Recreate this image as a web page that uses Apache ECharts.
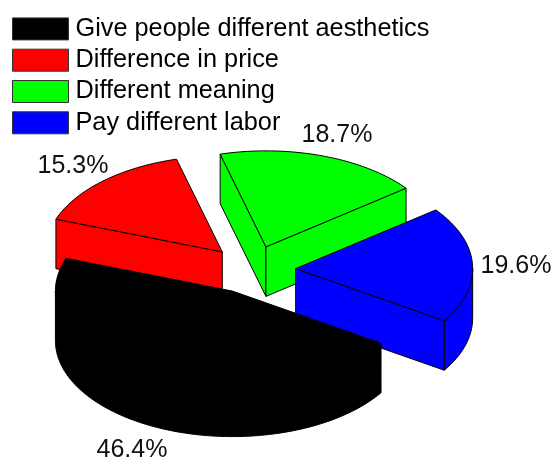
<!DOCTYPE html>
<html>
<head>
<meta charset="utf-8">
<style>html,body{margin:0;padding:0;background:#fff}#c{width:553px;height:458px}</style>
<script src="https://cdn.jsdelivr.net/npm/echarts@6/dist/echarts.min.js"></script>
</head>
<body>
<div id="c"></div>
<script>
var categories = ['Give people different aesthetics', 'Difference in price', 'Different meaning', 'Pay different labor'];
var values = [46.4, 15.3, 18.7, 19.6];
var percentLabels = ['46.4%', '15.3%', '18.7%', '19.6%'];

var colors = ['#000000', '#ff0000', '#00ff00', '#0000ff'];
var drawOrder = [4, 1, 2, 3];
var labelPositions = [[132, 450], [73, 166], [337, 135], [516, 266]];
var firstSliceStart = 32.9;
var pie = { cx: 251.9, cy: 269.6, rx: 177, ry: 96, depth: 49.5, explodeX: 43.8, explodeY: 24 };
var FONT = '"Liberation Sans", Arial, sans-serif';

var total = values.reduce(function (a, b) { return a + b; }, 0);
var sliceStarts = [];
values.reduce(function (acc, v, i) { sliceStarts[i] = acc; return acc + v / total * 360; }, firstSliceStart);

function rad(d) { return d * Math.PI / 180; }

function sliceShapes(i) {
  var a0 = sliceStarts[i];
  var a1 = a0 + values[i] / total * 360;
  var mid = rad((a0 + a1) / 2);
  var ax = pie.cx + pie.explodeX * Math.cos(mid);
  var ay = pie.cy + pie.explodeY * Math.sin(mid);
  function rim(a, dz) {
    return [ax + pie.rx * Math.cos(rad(a)), ay + pie.ry * Math.sin(rad(a)) + (dz || 0)];
  }
  function arc(from, to, dz) {
    var pts = [], n = Math.max(2, Math.ceil(Math.abs(to - from)));
    for (var k = 0; k <= n; k++) pts.push(rim(from + (to - from) * k / n, dz));
    return pts;
  }
  var polys = [];
  function cutFace(a) {
    polys.push([[ax, ay], rim(a), rim(a, pie.depth), [ax, ay + pie.depth]]);
  }
  // outer wall: the part of the rim that faces the viewer
  [0, 360].forEach(function (shift) {
    var lo = Math.max(a0, shift), hi = Math.min(a1, shift + 180);
    if (hi > lo) polys.push(arc(lo, hi).concat(arc(hi, lo, pie.depth)));
  });
  if (Math.cos(rad(a0)) < 0) cutFace(a0);
  if (Math.cos(rad(a1)) > 0) cutFace(a1);
  polys.push([[ax, ay]].concat(arc(a0, a1)));
  return polys;
}

function makeSeries(name, i) {
  return {
    type: 'custom',
    name: name,
    coordinateSystem: 'none',
    z: drawOrder[i],
    silent: true,
    animation: false,
    itemStyle: { color: colors[i] },
    data: [values[i]],
    renderItem: function () {
      var children = sliceShapes(i).map(function (points) {
        return {
          type: 'polygon',
          shape: { points: points },
          style: { fill: colors[i], stroke: '#000', lineWidth: 1, lineJoin: 'round' }
        };
      });
      children.push({
        type: 'text',
        style: {
          text: percentLabels[i], x: labelPositions[i][0], y: labelPositions[i][1],
          fill: '#111', font: '25px ' + FONT, align: 'center', verticalAlign: 'middle'
        }
      });
      return { type: 'group', children: children };
    }
  };
}

var chart = echarts.init(document.getElementById('c'), null, { renderer: 'canvas' });
chart.setOption({
  animation: false,
  backgroundColor: '#fff',
  legend: {
    orient: 'vertical', left: 12, top: 16.4,
    itemWidth: 56, itemHeight: 22, itemGap: 6.3, padding: 0,
    icon: 'rect', selectedMode: false,
    textStyle: { fontFamily: FONT, fontSize: 25.3, lineHeight: 22, color: '#000', padding: [1, 0, 0, 2] },
    data: categories.map(function (c, i) {
      return { name: c, itemStyle: { color: colors[i], borderColor: '#333', borderWidth: 1 } };
    })
  },
  series: categories.map(makeSeries)
});
</script>
</body>
</html>
